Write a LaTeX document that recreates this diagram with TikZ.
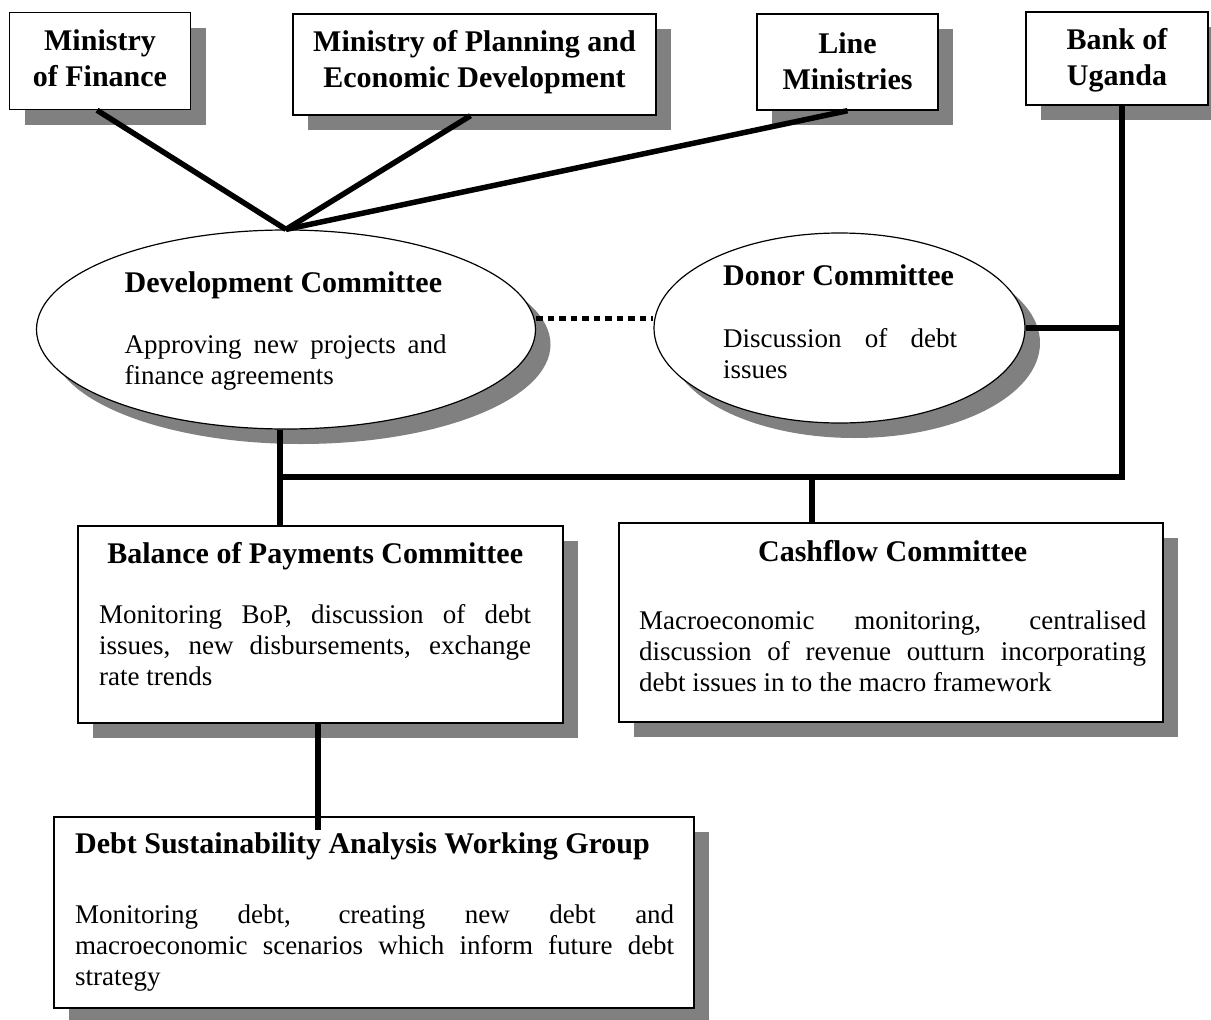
\documentclass[tikz,border=0pt]{standalone}
\usepackage{fontspec}
\setmainfont{Liberation Serif}
\usetikzlibrary{shapes.geometric,shadows,calc}

\definecolor{shadowgray}{HTML}{808080}

% type sizes for headings and body text (natural, stretchable word spaces)
\newcommand\hdfont{\fontsize{30}{36}\selectfont\bfseries\spaceskip=0pt\xspaceskip=0pt\relax}
\newcommand\txfont{\fontsize{27}{31}\selectfont\spaceskip=0pt\xspaceskip=0pt\relax}
% a fully justified line of body text
\newcommand\fullline[1]{\makebox[\hsize][s]{#1}}
% a centred heading line
\newcommand\midline[1]{\makebox[\hsize][c]{#1}}

\tikzset{
  x=1pt, y=-1pt,
  shade/.style={drop shadow={shadow xshift=15pt, shadow yshift=-15pt,
                fill=shadowgray, opacity=1}},
  orgbox/.style={rectangle, draw=black, line width=1.4pt, fill=white,
                 inner sep=0pt, shade},
  orgoval/.style={ellipse, draw=black, line width=1.2pt, fill=white,
                  inner sep=0pt, shade},
  boxtitle/.style={anchor=base, inner sep=0pt, text justified,
                   execute at begin node={\parindent=0pt\hdfont}},
  blocktext/.style={anchor=base west, inner sep=0pt, text justified,
                    execute at begin node={\parindent=0pt}},
  link/.style={line width=5.5pt, black},
  dotlink/.style={line width=5.5pt, black, dash pattern=on 6.5pt off 5pt}
}

\begin{document}
\begin{tikzpicture}
\useasboundingbox (0,0) rectangle (1211,1020);
\clip (0,0) rectangle (1211,1020);

% ---- top row: ministries and central bank
\node[orgbox, minimum width=181pt, minimum height=97pt] (mof) at (100,61) {};
\node[orgbox, minimum width=363pt, minimum height=101pt] (mped) at (474.5,64.5) {};
\node[orgbox, minimum width=181pt, minimum height=96pt] (lm) at (847.5,62) {};
\node[orgbox, minimum width=182pt, minimum height=93pt] (bank) at (1117,58.5) {};

\node[boxtitle, text width=175pt] (moft) at (100,50)
  {\midline{Ministry}\\\midline{of Finance}\par};
\node[boxtitle, text width=360pt] (mpedt) at (474.5,51)
  {\midline{Ministry of Planning and}\\\midline{Economic Development}\par};
\node[boxtitle, text width=175pt] (lmt) at (847.5,53)
  {\midline{Line}\\\midline{Ministries}\par};
\node[boxtitle, text width=175pt] (bankt) at (1117,49)
  {\midline{Bank of}\\\midline{Uganda}\par};

% ---- committees
\node[orgoval, minimum width=499pt, minimum height=199pt] (dev) at (286,329.5) {};
\node[orgoval, minimum width=371pt, minimum height=190pt] (donor) at (839.5,328) {};

\node[blocktext, text width=322pt] (devt) at (124.5,292)
  {{\hdfont Development Committee\par}\vspace{30pt}
   \txfont\fullline{Approving new projects and}\\finance agreements\par};
\node[blocktext, text width=234pt] (donort) at (723,285)
  {{\hdfont Donor Committee\par}\vspace{31pt}
   \txfont\fullline{Discussion of debt}\\issues\par};

\node[orgbox, minimum width=485pt, minimum height=197pt] (bop) at (320.5,624.5) {};
\node[orgbox, minimum width=544pt, minimum height=199pt] (cf) at (891,622.5) {};
\node[orgbox, minimum width=640pt, minimum height=191pt] (dsa) at (374,912.5) {};

\node[blocktext, text width=432pt] (bopt) at (99,563)
  {{\hdfont\midline{Balance of Payments Committee}\par}\vspace{29pt}
   \txfont\fullline{Monitoring BoP, discussion of debt}\\
   \fullline{issues, new disbursements, exchange}\\
   rate trends\par};
\node[blocktext, text width=507pt] (cft) at (639,561)
  {{\hdfont\midline{Cashflow Committee}\par}\vspace{37pt}
   \txfont\fullline{Macroeconomic monitoring, centralised}\\
   \fullline{discussion of revenue outturn incorporating}\\
   debt issues in to the macro framework\par};
\node[blocktext, text width=599pt] (dsat) at (75,853)
  {{\hdfont Debt Sustainability Analysis Working Group\par}\vspace{39pt}
   \txfont\fullline{Monitoring debt, creating new debt and}\\
   \fullline{macroeconomic scenarios which inform future debt}\\
   strategy\par};

% ---- connectors
\coordinate (bankfoot) at ($(bank.south)+(5,0)$);
\coordinate (jL) at (280,477);
\coordinate (jC) at (812,477);
\coordinate (jD) at (318,830);
\coordinate (dA) at ($(dev.east)+(0,-11)$);

\draw[link] ($(mof.south)+(-3,0)$) -- (dev.north);
\draw[link] ($(mped.south)+(-4,0)$) -- (dev.north);
\draw[link] (lm.south) -- (dev.north);

\draw[link] (bankfoot) |- (jL);
\draw[link] (dev.south -| jL) -- (bop.north -| jL);
\draw[link] (donor.east) -- (donor.east -| bankfoot);
\draw[link] (jC) -- (cf.north -| jC);
\draw[link] (bop.south -| jD) -- (jD);

\draw[dotlink] (dA) -- (dA -| donor.west);
\end{tikzpicture}
\end{document}
